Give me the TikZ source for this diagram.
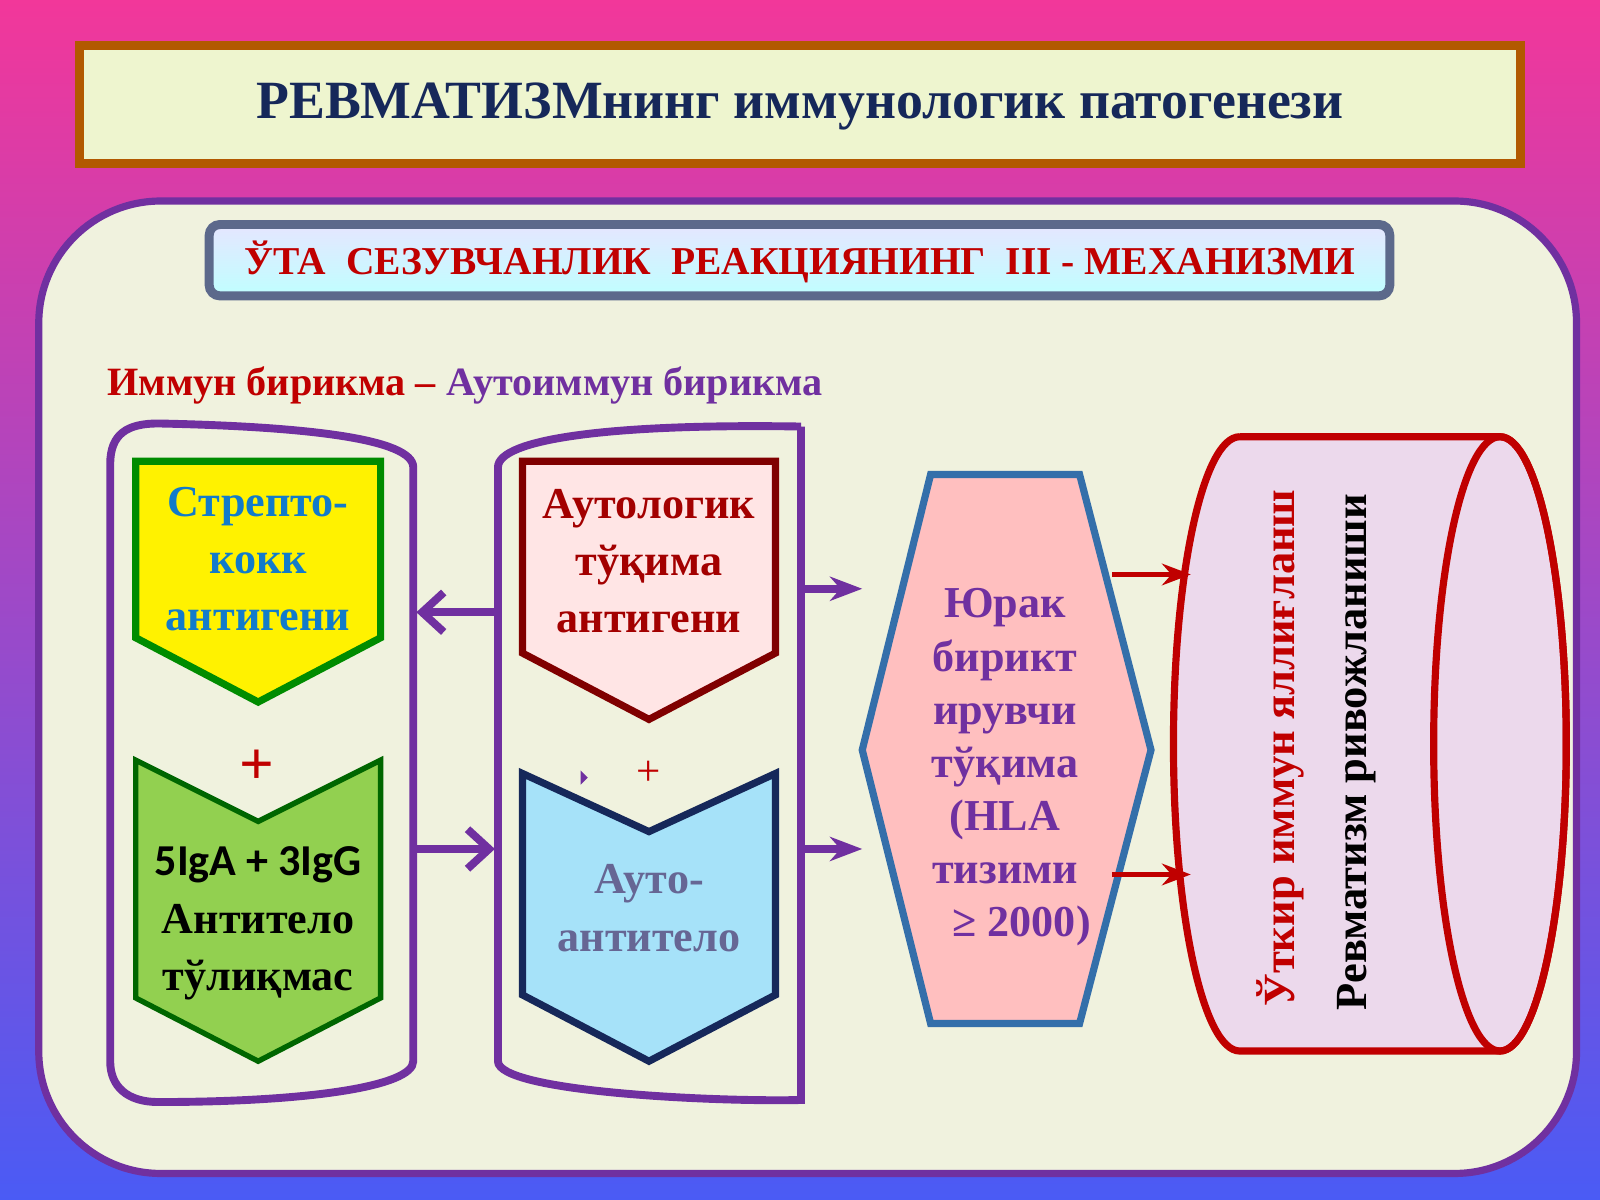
\documentclass[tikz,border=0pt]{standalone}
\usepackage{fontspec}
\setmainfont{Liberation Serif}
\newfontfamily\carl{Carlito}
\usetikzlibrary{arrows.meta}
\definecolor{bgtop}{HTML}{F2379A}
\definecolor{bgbot}{HTML}{4A5BF5}
\definecolor{panel}{HTML}{F0F2DE}
\definecolor{purp}{HTML}{7030A0}
\definecolor{navy}{HTML}{16285A}
\definecolor{dred}{HTML}{C00000}
\definecolor{ttlfill}{HTML}{EEF5CF}
\definecolor{gfill}{HTML}{92D050}
\begin{document}
\begin{tikzpicture}[x=0.01cm,y=-0.01cm,
  txt/.style={font=\bfseries\fontsize{12.3}{14}\selectfont,align=center},
  parr/.style={purp,line width=2.2pt,-{Stealth[length=9pt]}},
  barb/.style={purp,line width=2.2pt,-{Straight Barb[length=6pt,width=11pt]}},
  rarr/.style={dred,line width=1.6pt,-{Stealth[length=8pt]}}]
\useasboundingbox (0,0) rectangle (1568,1176);
\shade[top color=bgtop,bottom color=bgbot] (0,0) rectangle (1568,1176);
% title
\draw[draw=orange!70!black,line width=2.5pt,fill=ttlfill] (78,45) rectangle (1490,160);
\node[font=\bfseries\fontsize{15}{18}\selectfont,text=navy] (title) at (784,104) {РЕВМАТИЗМнинг иммунологик патогенези};
% panel
\draw[purp,line width=2pt,fill=panel,rounded corners=34pt] (38,197) rectangle (1545,1150);
\shade[top color=blue!10!white,bottom color=cyan!25!white,rounded corners=3pt] (205,220) rectangle (1362,290);
\draw[navy!70,line width=2.5pt,rounded corners=3pt] (205,220) rectangle (1362,290);
\node[font=\bfseries\fontsize{11}{13}\selectfont,text=dred] (sub) at (784,257) {ЎТА\ \ СЕЗУВЧАНЛИК\ \ РЕАКЦИЯНИНГ\ \ III - МЕХАНИЗМИ};
\node[anchor=west,font=\bfseries\fontsize{11.2}{13}\selectfont] (imm) at (93,378) {\textcolor{dred}{Иммун бирикма –} \textcolor{purp}{Аутоиммун бирикма}};
% brackets
\draw[purp,line width=2.2pt] (108,1040) -- (108,455) .. controls (108,425) and (125,415) .. (155,415) .. controls (300,418) and (405,430) .. (405,458) -- (405,1040) .. controls (405,1065) and (300,1080) .. (155,1080) .. controls (125,1080) and (108,1065) .. (108,1040);
\draw[purp,line width=2.2pt] (785,418) -- (785,1078) .. controls (700,1080) and (488,1070) .. (488,1040) -- (488,458) .. controls (488,430) and (600,415) .. (785,418);
% yellow
\draw[green!55!black,line width=2pt,fill=yellow] (133,452) -- (373,452) -- (373,625) -- (253,688) -- (133,625) -- cycle;
\node[txt,text=cyan!60!blue] (strep) at (253,548) {Стрепто-\\[2pt]кокк\\[2pt]антигени};
\node[font=\bfseries\fontsize{17}{17}\selectfont,text=dred] (plus1) at (252,752) {+};
% green
\draw[green!40!black,line width=1.5pt,fill=gfill] (133,745) -- (253,805) -- (373,745) -- (373,978) -- (253,1040) -- (133,978) -- cycle;
\node[txt,text=black] (ab) at (253,905) {{\carl 5IgA + 3IgG}\\[2pt]Антитело\\[2pt]тўлиқмас};
% pink
\draw[red!50!black,line width=2pt,fill=red!10!white] (512,452) -- (760,452) -- (760,640) -- (636,705) -- (512,640) -- cycle;
\node[txt,text=dred!85!black] (auto) at (636,550) {Аутологик\\[2pt]тўқима\\[2pt]антигени};
\node[font=\fontsize{12}{12}\selectfont,text=dred] (plus2) at (636,758) {+};
\fill[purp] (569,755) -- (576,762) -- (569,769) -- cycle;
% blue
\draw[navy,line width=2pt,fill=cyan!35!white] (512,758) -- (636,815) -- (760,758) -- (760,975) -- (636,1040) -- (512,975) -- cycle;
\node[txt,text=black!70!blue!60] (aab) at (636,890) {Ауто-\\[2pt]антитело};
% purple arrows
\coordinate (m1) at (488,600); \coordinate (l1) at (408,600);
\coordinate (l2) at (405,832); \coordinate (m2) at (485,832);
\draw[barb] (m1) -- (l1);
\draw[barb] (l2) -- (m2);
\coordinate (r1) at (785,577); \coordinate (h1) at (845,577);
\coordinate (r2) at (785,832); \coordinate (h2) at (845,832);
\draw[parr] (r1) -- (h1);
\draw[parr] (r2) -- (h2);
% hexagon
\draw[cyan!55!blue!80!black,line width=2pt,fill=red!25!white] (912,465) -- (1058,465) -- (1128,735) -- (1058,1003) -- (912,1003) -- (845,735) -- cycle;
\node[align=center,text=purp,font=\bfseries\fontsize{12.3}{14.8}\selectfont] (hla) at (985,752) {Юрак\\бирикт\\ирувчи\\тўқима\\(HLA\\тизими\\\ \ \ ≥ 2000)};
% cylinder
\draw[dred,line width=2pt,fill=violet!15!white] (1215,428) -- (1470,428) arc[start angle=-90,end angle=90,x radius=65,y radius=301] -- (1215,1030) arc[start angle=90,end angle=270,x radius=65,y radius=301];
\draw[dred,line width=2pt] (1470,729) ellipse [x radius=65,y radius=301];
\node[rotate=90,font=\bfseries\fontsize{12.4}{14}\selectfont,text=dred] (t1) at (1255,733) {Ўткир иммун яллиғланш};
\node[rotate=90,font=\bfseries\fontsize{12.4}{14}\selectfont,text=black] (t2) at (1330,737) {Ревматизм ривожланиши};
\coordinate (a1) at (1090,563); \coordinate (b1) at (1167,563);
\coordinate (a2) at (1090,857); \coordinate (b2) at (1167,857);
\draw[rarr] (a1) -- (b1);
\draw[rarr] (a2) -- (b2);
\end{tikzpicture}
\end{document}
